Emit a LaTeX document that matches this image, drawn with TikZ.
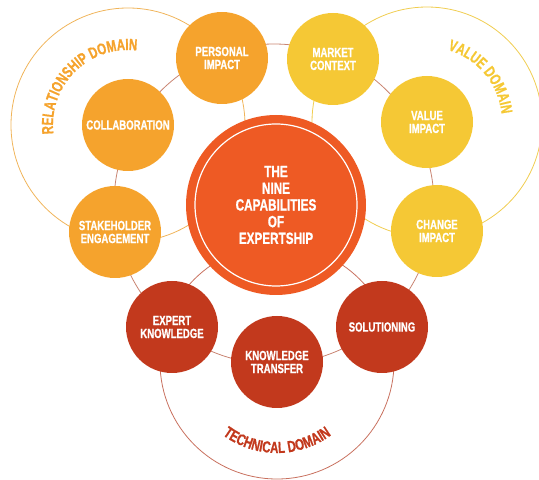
\documentclass[tikz,border=0pt]{standalone}
\usepackage{fontspec}
\setmainfont{Liberation Sans}[FakeStretch=0.72,BoldFeatures={FakeBold=0.8}]
\usetikzlibrary{decorations.text}

\definecolor{relfill}{HTML}{F5A32D}
\definecolor{valfill}{HTML}{F5C835}
\definecolor{techfill}{HTML}{C2391D}
\definecolor{hubfill}{HTML}{EE5A24}
\definecolor{relline}{HTML}{F0B45A}
\definecolor{valline}{HTML}{F0CD50}
\definecolor{techline}{HTML}{C8705E}
\definecolor{ringline}{HTML}{C98472}

\begin{document}
\begin{tikzpicture}[x=1pt,y=1pt,line join=round,line cap=round,
    capab/.style={circle,fill=#1,minimum size=92pt,inner sep=0pt,text=white,
      align=center,font=\bfseries\fontsize{13.3}{13}\selectfont},
    orbit/.style={draw=#1,line width=0.8pt}]
    \useasboundingbox (0,0) rectangle (539,480);

    % Centres of the circles
    \coordinate (hub) at (274,276);
    \coordinate (P) at (222,422); \coordinate (C) at (128,355);
    \coordinate (S) at (115,248); \coordinate (M) at (333,421);
    \coordinate (V) at (427,358); \coordinate (I) at (437,249);
    \coordinate (E) at (172,153); \coordinate (T) at (277,118);
    \coordinate (O) at (382,153);

    % Domain rings and the inner ring
    \draw[orbit=relline] (C) circle[radius=117];
    \draw[orbit=valline] (V) circle[radius=115];
    \draw[orbit=techline] (T) circle[radius=117];
    \draw[orbit=ringline] (hub) circle[radius=160];

    % Nine capabilities
    \node[capab=relfill] (personal) at (P) {PERSONAL\\IMPACT};
    \node[capab=relfill] (collab) at (C) {COLLABORATION};
    \node[capab=relfill] (stake) at (S) {STAKEHOLDER\\ENGAGEMENT};
    \node[capab=valfill] (market) at (M) {MARKET\\CONTEXT};
    \node[capab=valfill] (value) at (V) {VALUE\\IMPACT};
    \node[capab=valfill] (change) at (I) {CHANGE\\IMPACT};
    \node[capab=techfill] (expert) at (E) {EXPERT\\KNOWLEDGE};
    \node[capab=techfill] (transfer) at (T) {KNOWLEDGE\\TRANSFER};
    \node[capab=techfill] (solution) at (O) {SOLUTIONING};

    % Centre circle
    \node[circle,fill=hubfill,minimum size=180pt,inner sep=0pt,text=white,align=center,
      font=\bfseries\fontsize{16.3}{16.7}\selectfont] (nine) at (276,275)
      {THE\\NINE\\CAPABILITIES\\OF\\EXPERTSHIP};
    \draw[white,line width=1.2pt] (nine.center) circle[radius=81];

    % Domain names
    \path[decorate,decoration={text along path,text align=center,text color=relfill,
      text={|\bfseries\fontsize{16}{16}\selectfont|RELATIONSHIP DOMAIN}}]
      (C) ++(200:75) arc[start angle=200,end angle=70,radius=75];
    \path[decorate,decoration={text along path,text align=center,text color=valfill,
      text={|\bfseries\fontsize{16}{16}\selectfont|VALUE DOMAIN}}]
      (V) ++(95:75) arc[start angle=95,end angle=-15,radius=75];
    \path[decorate,decoration={text along path,text align=center,text color=techfill,
      text={|\bfseries\fontsize{16}{16}\selectfont|TECHNICAL DOMAIN}}]
      (T) ++(215:91) arc[start angle=215,end angle=325,radius=91];
\end{tikzpicture}
\end{document}
